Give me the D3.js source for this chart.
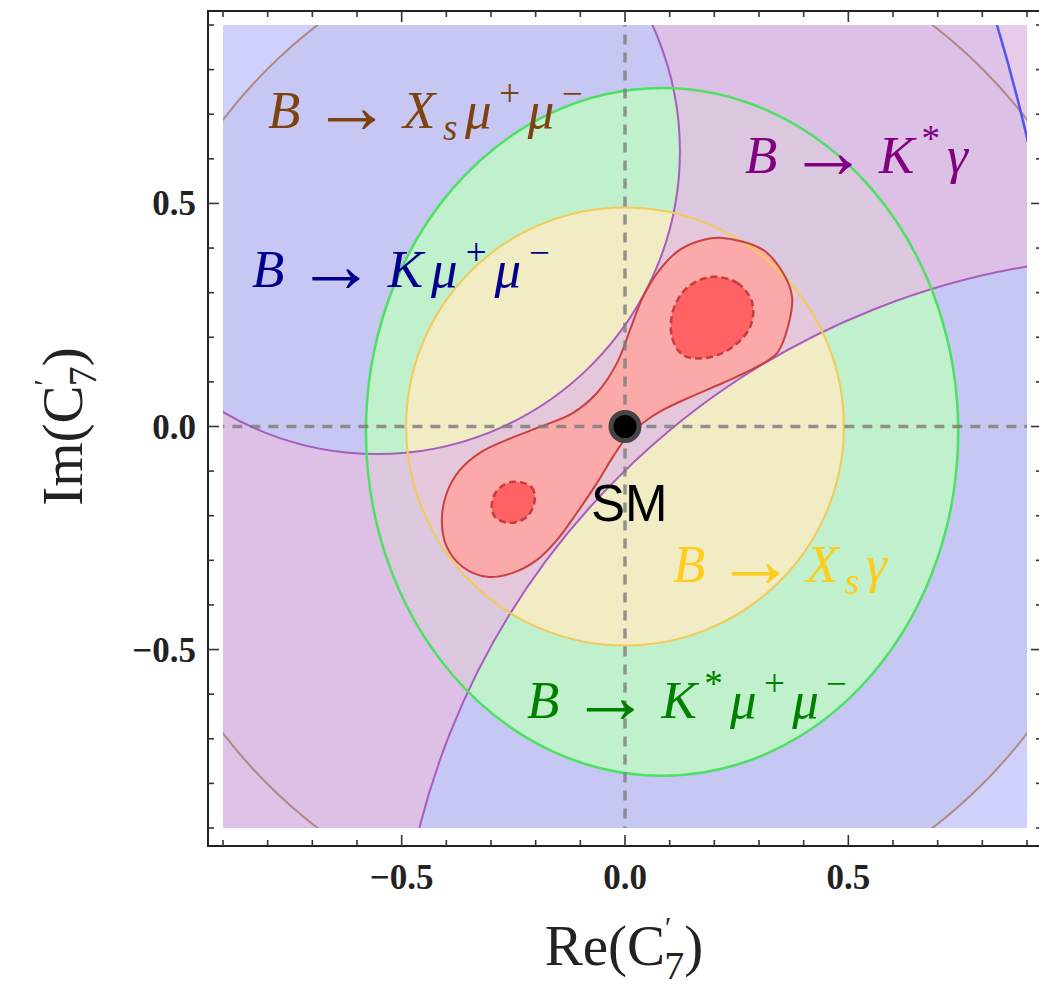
<!DOCTYPE html>
<html>
<head>
<meta charset="utf-8">
<script src="https://cdn.jsdelivr.net/npm/d3@7"></script>
<style>
  body { margin: 0; background: #fff; }
</style>
</head>
<body>
<script>
// axis ticks
const tickValues = [-0.5, 0, 0.5];
const tickLabels = ["\u22120.5", "0.0", "0.5"];
const minorTicks = [-0.9, -0.8, -0.7, -0.6, -0.5, -0.4, -0.3, -0.2, -0.1, 0, 0.1, 0.2, 0.3, 0.4, 0.5, 0.6, 0.7, 0.8, 0.9];

// allowed regions (cx, cy, r) / (cx, cy, rx, ry) in units of C7'
const xsMuMuCircle = [0, 0, 1.132];
const kMuMuCircle = [-2.997, -0.256, 4.0];
const kStarGammaHoles = [[-0.555, 0.617, 0.678], [1.181, -1.313, 1.692]];
const kStarMuMuEllipse = [0.083, -0.012, 0.663, 0.770];
const xsGammaCircle = [0, 0, 0.490];

// global fit contours
const fitOuter = [
  [0.213, 0.423], [0.309, 0.396], [0.354, 0.344], [0.374, 0.291], [0.365, 0.224],
  [0.341, 0.165], [0.296, 0.134], [0.220, 0.098], [0.146, 0.066], [0.085, 0.037],
  [0.040, 0.008], [0.004, -0.024], [-0.027, -0.068], [-0.063, -0.127], [-0.108, -0.194],
  [-0.152, -0.254], [-0.197, -0.299], [-0.251, -0.328], [-0.309, -0.337], [-0.363, -0.315],
  [-0.399, -0.270], [-0.410, -0.210], [-0.399, -0.149], [-0.370, -0.098], [-0.325, -0.059],
  [-0.265, -0.030], [-0.191, -0.001], [-0.117, 0.030], [-0.063, 0.075], [-0.018, 0.142],
  [0.011, 0.216], [0.040, 0.290], [0.072, 0.344], [0.117, 0.392], [0.161, 0.414]
];
const fitInnerUpper = [
  [0.191, 0.335], [0.251, 0.322], [0.285, 0.277], [0.280, 0.223], [0.242, 0.179],
  [0.184, 0.154], [0.130, 0.160], [0.105, 0.201], [0.108, 0.261], [0.139, 0.311]
];
const fitInnerLower = [
  [-0.251, -0.124], [-0.209, -0.136], [-0.202, -0.165], [-0.220, -0.203],
  [-0.258, -0.216], [-0.291, -0.203], [-0.298, -0.172], [-0.285, -0.142]
];
const smPoint = [0, 0];

const width = 1039;
const height = 990;
const serif = "'Liberation Serif', 'Times New Roman', serif";

const svg = d3.select('body')
  .append('svg')
  .attr('width', width)
  .attr('height', height)
  .style('background', '#fff');

const x = d3.scaleLinear().domain([-0.9, 0.9]).range([223, 1027]);
const y = d3.scaleLinear().domain([-0.9, 0.9]).range([828, 25]);
const k = x(1) - x(0);

svg.append('clipPath').attr('id', 'plot-clip')
  .append('rect')
  .attr('x', x(-0.9)).attr('y', y(0.9))
  .attr('width', x(0.9) - x(-0.9)).attr('height', y(-0.9) - y(0.9));

const plot = svg.append('g').attr('clip-path', 'url(#plot-clip)');

const circlePath = (c, p) => {
  p = p || d3.path();
  p.moveTo(x(c[0]) + c[2] * k, y(c[1]));
  p.arc(x(c[0]), y(c[1]), c[2] * k, 0, 2 * Math.PI);
  return p;
};

// fills
plot.append('path').attr('d', circlePath(kMuMuCircle).toString()).attr('fill', '#d0d0fc');
plot.append('path').attr('d', circlePath(xsMuMuCircle).toString()).attr('fill', '#000030').attr('fill-opacity', 0.04);
plot.append('ellipse')
  .attr('cx', x(kStarMuMuEllipse[0])).attr('cy', y(kStarMuMuEllipse[1]))
  .attr('rx', kStarMuMuEllipse[2] * k).attr('ry', kStarMuMuEllipse[3] * k)
  .attr('fill', '#c0f0cc');
plot.append('path').attr('d', circlePath(xsGammaCircle).toString()).attr('fill', '#f1ecc4');

// B -> K* gamma band : plot area minus two discs
const band = d3.path();
band.rect(x(-1), y(1), x(1) - x(-1), y(-1) - y(1));
kStarGammaHoles.forEach(c => circlePath(c, band));
plot.append('path').attr('d', band.toString())
  .attr('fill', 'rgb(226,190,226)').attr('fill-opacity', 0.8).attr('fill-rule', 'evenodd');

// fit contours
const contour = d3.line().x(d => x(d[0])).y(d => y(d[1])).curve(d3.curveCatmullRomClosed);
plot.append('path').attr('d', contour(fitOuter)).attr('fill', '#fca9a9');
plot.append('path').attr('d', contour(fitInnerUpper)).attr('fill', '#ff6262');
plot.append('path').attr('d', contour(fitInnerLower)).attr('fill', '#ff6262');

// boundaries
plot.append('path').attr('d', circlePath(xsMuMuCircle).toString())
  .attr('fill', 'none').attr('stroke', '#b08a82').attr('stroke-width', 2);
plot.append('path').attr('d', circlePath(kMuMuCircle).toString())
  .attr('fill', 'none').attr('stroke', '#5555f0').attr('stroke-width', 2.5);
kStarGammaHoles.forEach(c => {
  plot.append('path').attr('d', circlePath(c).toString())
    .attr('fill', 'none').attr('stroke', '#a85cbc').attr('stroke-width', 2);
});
plot.append('ellipse')
  .attr('cx', x(kStarMuMuEllipse[0])).attr('cy', y(kStarMuMuEllipse[1]))
  .attr('rx', kStarMuMuEllipse[2] * k).attr('ry', kStarMuMuEllipse[3] * k)
  .attr('fill', 'none').attr('stroke', '#4ee064').attr('stroke-width', 2.5);
plot.append('path').attr('d', circlePath(xsGammaCircle).toString())
  .attr('fill', 'none').attr('stroke', '#f2ca55').attr('stroke-width', 2);
plot.append('path').attr('d', contour(fitOuter))
  .attr('fill', 'none').attr('stroke', '#c84040').attr('stroke-width', 2);
[fitInnerUpper, fitInnerLower].forEach(c => {
  plot.append('path').attr('d', contour(c))
    .attr('fill', 'none').attr('stroke', '#c83c3c').attr('stroke-width', 2.5)
    .attr('stroke-dasharray', '7,4');
});

// dashed zero lines
plot.append('line')
  .attr('x1', x(0)).attr('x2', x(0)).attr('y1', y(1)).attr('y2', y(-1))
  .attr('stroke', '#7c7c7c').attr('stroke-opacity', 0.8)
  .attr('stroke-width', 3.5).attr('stroke-dasharray', '10,8');
plot.append('line')
  .attr('x1', x(-1)).attr('x2', x(1)).attr('y1', y(0)).attr('y2', y(0))
  .attr('stroke', '#7c7c7c').attr('stroke-opacity', 0.8)
  .attr('stroke-width', 3.5).attr('stroke-dasharray', '10,8');

// SM point
svg.append('circle')
  .attr('cx', x(smPoint[0])).attr('cy', y(smPoint[1])).attr('r', 14)
  .attr('fill', '#000').attr('stroke', '#454545').attr('stroke-width', 5);
svg.append('text')
  .attr('x', 591).attr('y', 521)
  .style('font-family', "'Liberation Sans', Arial, sans-serif")
  .style('font-size', '51px')
  .attr('fill', '#000')
  .text('SM');

// frame
const fx0 = 208, fx1 = 1042, fy0 = 11, fy1 = 846;
svg.append('rect')
  .attr('x', fx0).attr('y', fy0).attr('width', fx1 - fx0).attr('height', fy1 - fy0)
  .attr('fill', 'none').attr('stroke', '#222').attr('stroke-width', 2);

const ticks = svg.append('g').attr('stroke', '#333').attr('stroke-width', 1.6);
minorTicks.forEach(v => {
  const len = tickValues.some(t => Math.abs(t - v) < 1e-9) ? 11 : 6;
  ticks.append('line').attr('x1', x(v)).attr('x2', x(v)).attr('y1', fy1).attr('y2', fy1 - len);
  ticks.append('line').attr('x1', x(v)).attr('x2', x(v)).attr('y1', fy0).attr('y2', fy0 + len);
  ticks.append('line').attr('y1', y(v)).attr('y2', y(v)).attr('x1', fx0).attr('x2', fx0 + len);
  ticks.append('line').attr('y1', y(v)).attr('y2', y(v)).attr('x1', fx1).attr('x2', fx1 - len);
});

tickValues.forEach((v, i) => {
  svg.append('text')
    .attr('x', x(v)).attr('y', 889)
    .attr('text-anchor', 'middle')
    .style('font-family', serif).style('font-weight', 'bold').style('font-size', '35px')
    .attr('fill', '#222')
    .text(tickLabels[i]);
  svg.append('text')
    .attr('x', 196).attr('y', y(v) + 12)
    .attr('text-anchor', 'end')
    .style('font-family', serif).style('font-weight', 'bold').style('font-size', '35px')
    .attr('fill', '#222')
    .text(tickLabels[i]);
});

// math-like labels built from tspans
// part: {t, i: italic, s: size factor, off: baseline offset factor (+ down), dx}
function mathText(parent, x0, y0, parts, color, size, targetWidth, anchor) {
  const t = parent.append('text')
    .attr('x', x0).attr('y', y0)
    .attr('fill', color)
    .attr('text-anchor', anchor || 'start')
    .style('font-family', serif)
    .style('font-size', size + 'px');
  let shift = 0;
  parts.forEach(p => {
    const target = (p.off || 0) * size;
    t.append('tspan')
      .attr('dy', target - shift)
      .attr('dx', p.dx || null)
      .style('font-size', p.s ? (p.s * size) + 'px' : null)
      .style('font-style', p.i ? 'italic' : 'normal')
      .text(p.t);
    shift = target;
  });
  if (targetWidth) {
    t.attr('textLength', targetWidth).attr('lengthAdjust', 'spacing');
  }
  return t;
}

const B = {t: 'B', i: true};
const arr = {t: '\u2192', s: 1.5, dx: 4, off: 0.1};
const X = {t: 'X', i: true, dx: 4};
const K = {t: 'K', i: true, dx: 4};
const sub = s => ({t: s, i: true, s: 0.7, off: 0.22});
const sup = s => ({t: s, s: 0.7, off: -0.42});
const mu = {t: '\u03bc', i: true};
const gam = {t: '\u03b3', i: true};

mathText(svg, 268, 128, [B, arr, X, sub('s'), mu, sup('+'), mu, sup('\u2212')], '#7d4210', 53, 315);
mathText(svg, 252, 287, [B, arr, K, mu, sup('+'), mu, sup('\u2212')], '#00008c', 53, 298);
mathText(svg, 745, 173, [B, arr, K, sup('*'), gam], '#800080', 53, 223);
mathText(svg, 673, 582, [B, arr, X, sub('s'), gam], '#ffcc1a', 53, 214);
mathText(svg, 527, 718, [B, arr, K, sup('*'), mu, sup('+'), mu, sup('\u2212')], '#008000', 53, 320);

// axis titles
const titleParts = lead => [{t: lead + '('}, {t: 'C'}, {t: '\u2032', s: 0.5, off: -0.5},
  {t: '7', s: 0.7, off: 0.25, dx: -7}, {t: ')'}];
mathText(svg, 624, 965, titleParts('Re'), '#222', 57, null, 'middle');
const yTitle = svg.append('g').attr('transform', 'translate(82,426.5) rotate(-90)');
mathText(yTitle, 0, 0, titleParts('Im'), '#222', 57, null, 'middle');
</script>
</body>
</html>
